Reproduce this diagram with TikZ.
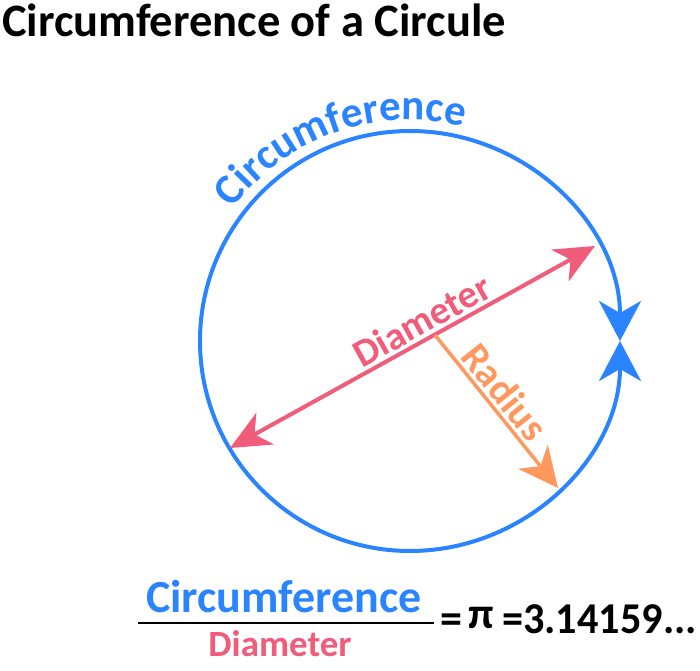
\documentclass[tikz,border=0pt]{standalone}
\usepackage{fontspec}
\setmainfont{Carlito}
\usetikzlibrary{arrows.meta,decorations.text}
\definecolor{cblue}{RGB}{43,132,255}
\definecolor{cpink}{RGB}{240,92,122}
\definecolor{corange}{RGB}{255,152,94}
\newcommand{\fsz}[1]{\bfseries\fontsize{#1}{#1}\selectfont}
\begin{document}
\begin{tikzpicture}[x=1pt,y=1pt,
  circline/.style={draw=cblue, line width=4pt},
  diamline/.style={draw=cpink, line width=4pt,
    {Stealth[length=40pt,width=36pt,inset=12pt]}-{Stealth[length=40pt,width=36pt,inset=12pt]}},
  radline/.style={draw=corange, line width=3.5pt,
    -{Stealth[length=40pt,width=38pt,inset=12pt]}},
  lbl/.style={inner sep=0pt},
]
\useasboundingbox (0,0) rectangle (700,670);
\fill[white] (0,0) rectangle (700,670);

% title
\node[lbl, anchor=base west, font=\fsz{46.5}] (title) at (2,633) {Circumference of a Circule};

% circle with arrows meeting at the right
\coordinate (O) at (410,329);
\coordinate (E) at (620,329);
\draw[circline, {Stealth[length=40pt,width=42pt,inset=12pt]}-{Stealth[length=40pt,width=42pt,inset=12pt]}]
  (E) arc[start angle=0, end angle=360, radius=210];

% circumference label along the arc
\path[decorate, decoration={text along path, text align=center,
  text={|\fsz{43}\color{cblue}|Circumference}}]
  ([shift={(159:221)}]O) arc[start angle=159, end angle=60, radius=221];

% diameter
\coordinate (A) at (230,222);
\coordinate (B) at (595,424);
\draw[diamline] (A) -- node[sloped, above, pos=0.55, inner sep=3pt, font=\fsz{39}, text=cpink] (dl) {Diameter} (B);

% radius
\coordinate (R0) at (435,335);
\coordinate (R1) at (558,182);
\draw[radline] (R0) -- node[sloped, above, pos=0.45, inner sep=3pt, font=\fsz{40}, text=corange] (rl) {Radius} (R1);

% formula
\node[lbl, anchor=base, font=\fsz{46}, text=cblue] (num) at (284,58) {Circumference};
\node[lbl, anchor=base, font=\fsz{37}, text=cpink] (den) at (280,14) {Diameter};
\coordinate (L1) at (138,47);
\coordinate (L2) at (434,47);
\draw[line width=2.7pt] (L1) -- (L2);
\node[lbl, anchor=base west, font=\fsz{44}] (eq) at (440,37) {=};
\node[lbl, anchor=base west, font=\fsz{44}] (pi) at (468,42) {π};
\node[lbl, anchor=base west, font=\fsz{44}] (val) at (502,37) {\scalebox{0.96}[1]{=3.14159...}};
\end{tikzpicture}
\end{document}
